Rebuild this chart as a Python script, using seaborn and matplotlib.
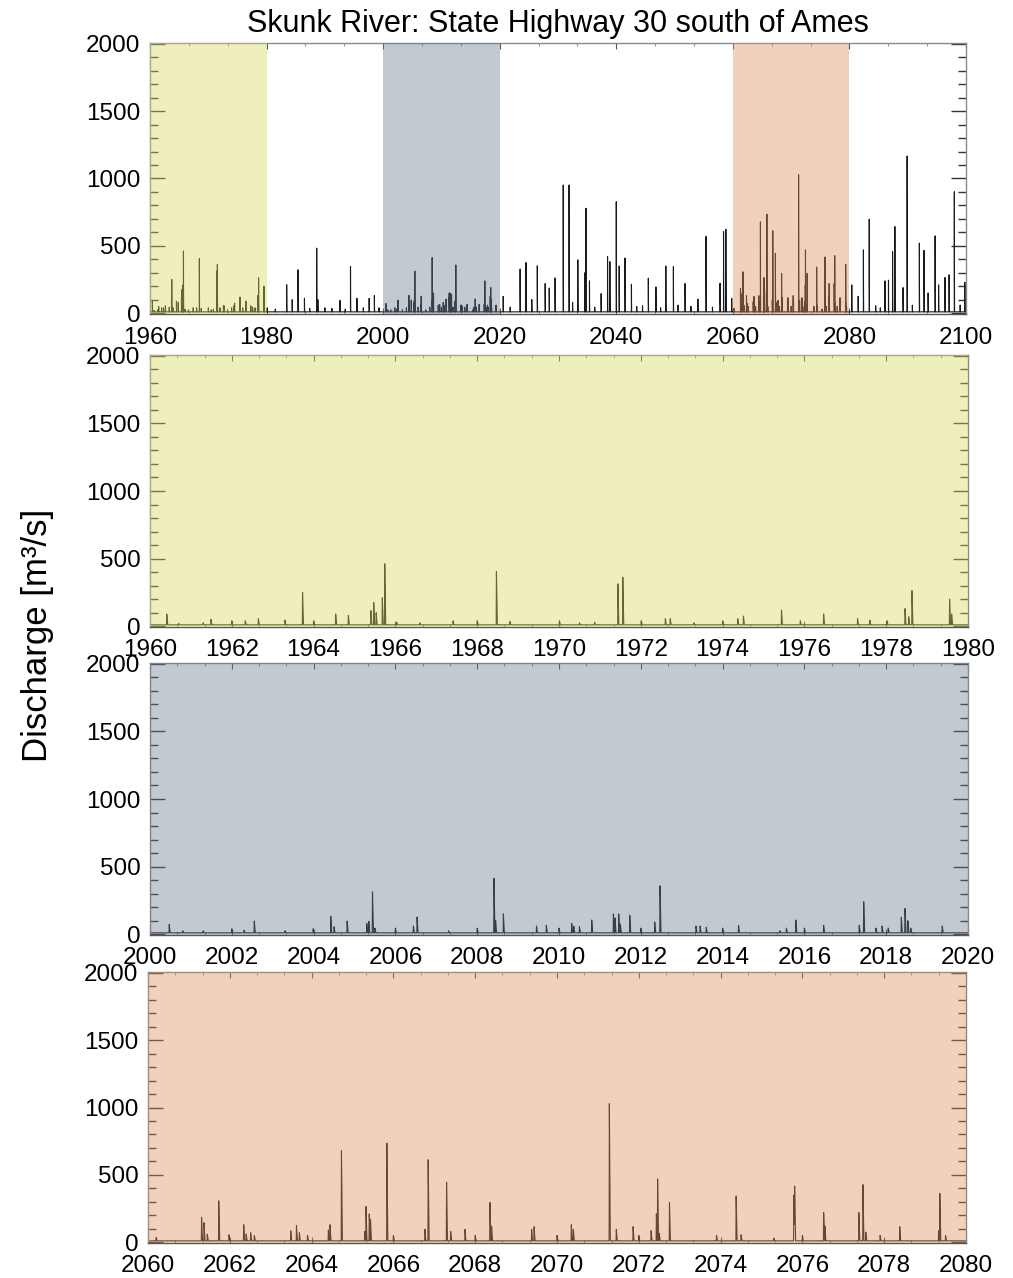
import numpy as np
import pandas as pd
import matplotlib
matplotlib.use("Agg")
import matplotlib.pyplot as plt
from matplotlib.ticker import MultipleLocator
import seaborn as sns

# ---------------- data (peak flows) ----------------
TITLE = "Skunk River: State Highway 30 south of Ames"
YLABEL = "Discharge [m³/s]"
BASEFLOW = 10.0  # m3/s between events

# 1960-1980
years_a = [1960.41, 1960.70, 1961.30, 1961.49, 1962.00, 1962.33, 1962.65, 1963.30,
           1963.73, 1964.00, 1964.54, 1964.85, 1965.40, 1965.47, 1965.53, 1965.68,
           1965.74, 1966.03, 1966.60, 1967.41, 1968.00, 1968.47, 1968.80, 1970.01,
           1970.50, 1970.87, 1971.44, 1971.56, 1972.01, 1972.60, 1972.72, 1973.30,
           1974.00, 1974.37, 1974.51, 1975.44, 1975.90, 1976.47, 1977.30, 1977.60,
           1978.02, 1978.46, 1978.55, 1978.63, 1979.55, 1979.60]
peaks_a = [90, 20, 25, 50, 40, 40, 55, 45,
           250, 40, 90, 80, 115, 175, 100, 210,
           462, 30, 25, 40, 40, 405, 35, 40,
           25, 30, 313, 363, 40, 55, 55, 25,
           40, 55, 75, 120, 40, 90, 55, 45,
           40, 130, 70, 263, 200, 90]

# 1980-2000
years_b = [1980.10, 1981.50, 1983.45, 1984.40, 1985.40, 1986.50, 1987.40, 1988.60,
           1988.80, 1990.00, 1991.20, 1992.60, 1993.50, 1994.40, 1995.50, 1996.60,
           1997.60, 1998.50, 1999.30]
peaks_b = [40, 30, 211, 100, 322, 112, 35, 483,
           100, 40, 35, 95, 30, 347, 110, 40,
           110, 130, 40]

# 2000-2020
years_c = [2000.47, 2000.80, 2001.30, 2002.00, 2002.30, 2002.55, 2003.30, 2003.99,
           2004.42, 2004.50, 2004.82, 2005.30, 2005.35, 2005.44, 2005.50, 2006.00,
           2006.44, 2006.53, 2007.30, 2008.00, 2008.41, 2008.45, 2008.64, 2009.45,
           2009.69, 2010.00, 2010.31, 2010.36, 2010.50, 2010.80, 2011.33, 2011.37,
           2011.46, 2011.50, 2011.73, 2012.00, 2012.34, 2012.47, 2013.35, 2013.45,
           2013.60, 2014.00, 2014.39, 2015.40, 2015.56, 2015.79, 2016.00, 2016.47,
           2017.34, 2017.45, 2017.75, 2017.90, 2018.05, 2018.37, 2018.46, 2018.53,
           2018.60, 2019.37]
peaks_c = [72, 25, 25, 40, 30, 97, 25, 40,
           132, 55, 97, 80, 95, 313, 45, 45,
           60, 127, 25, 45, 413, 100, 150, 60,
           65, 45, 80, 60, 55, 105, 150, 120,
           150, 75, 140, 45, 90, 358, 60, 60,
           50, 45, 65, 25, 45, 105, 45, 65,
           65, 240, 45, 60, 45, 125, 190, 100,
           45, 60]

# 2020-2060
years_d = [2020.60, 2021.80, 2023.50, 2024.50, 2025.50, 2026.45, 2027.80, 2028.50,
           2029.50, 2030.90, 2031.90, 2032.50, 2033.40, 2034.60, 2034.80, 2035.40,
           2036.30, 2037.40, 2038.50, 2038.90, 2040.00, 2040.50, 2041.50, 2042.60,
           2043.50, 2044.50, 2045.50, 2046.80, 2047.60, 2048.50, 2049.80, 2050.60,
           2051.80, 2052.80, 2054.00, 2055.40, 2056.50, 2057.80, 2058.40, 2058.80,
           2059.80]
peaks_d = [125, 45, 327, 376, 102, 352, 220, 187,
           262, 952, 952, 80, 396, 300, 779, 240,
           45, 145, 421, 383, 828, 350, 410, 215,
           50, 55, 260, 195, 40, 350, 345, 60,
           220, 50, 105, 570, 45, 222, 606, 623,
           110]

# 2060-2080
years_e = [2060.20, 2061.31, 2061.37, 2061.45, 2061.73, 2061.98, 2062.34, 2062.40,
           2062.51, 2062.60, 2063.49, 2063.63, 2063.70, 2063.90, 2064.41, 2064.45,
           2064.73, 2065.30, 2065.33, 2065.41, 2065.44, 2065.84, 2066.00, 2066.77,
           2066.85, 2067.30, 2067.40, 2067.75, 2068.00, 2068.36, 2068.40, 2069.38,
           2069.44, 2070.00, 2070.35, 2070.40, 2071.28, 2071.45, 2071.86, 2072.00,
           2072.30, 2072.43, 2072.46, 2072.50, 2072.75, 2073.90, 2074.38, 2074.50,
           2075.30, 2075.79, 2075.81, 2076.00, 2076.52, 2076.55, 2077.38, 2077.48,
           2077.55, 2077.90, 2078.38, 2079.33, 2079.36, 2079.50]
peaks_e = [35, 185, 145, 60, 307, 55, 130, 60,
           70, 50, 85, 125, 70, 50, 90, 130,
           678, 80, 265, 210, 170, 735, 50, 95,
           612, 445, 80, 95, 50, 295, 120, 95,
           115, 50, 130, 95, 1028, 95, 115, 50,
           85, 210, 470, 65, 295, 50, 343, 55,
           30, 350, 417, 50, 220, 120, 220, 427,
           75, 50, 115, 85, 363, 50]

# 2080-2100
years_f = [2080.40, 2081.50, 2082.40, 2083.40, 2084.50, 2085.30, 2086.10, 2086.70,
           2087.40, 2087.80, 2089.20, 2089.90, 2090.80, 2092.00, 2092.80, 2093.50,
           2094.70, 2095.30, 2096.40, 2097.10, 2098.00, 2099.00, 2099.80]
peaks_f = [210, 125, 470, 698, 55, 40, 240, 245,
           458, 643, 190, 1167, 60, 520, 466, 150,
           574, 210, 265, 285, 902, 60, 230]

periods = [(1960, 1980), (2000, 2020), (2060, 2080)]
period_colors = ["#d9d95c", "#69788e", "#d98e5c"]  # overlays (alpha 0.4)

# ---------------- build hydrograph from the event list ----------------
ev_t = np.array(years_a + years_b + years_c + years_d + years_e + years_f)
ev_q = np.array(peaks_a + peaks_b + peaks_c + peaks_d + peaks_e + peaks_f, float)
t = np.union1d(np.arange(1960.0, 2100.0005, 0.002), ev_t)
q = np.full_like(t, BASEFLOW)
RISE, FALL = 0.006, 0.022
for tt, qq in zip(ev_t, ev_q):
    i0, i1 = np.searchsorted(t, [tt - RISE, tt + FALL])
    seg = t[i0:i1]
    shape = np.where(seg <= tt, 1 - (tt - seg) / RISE, 1 - (seg - tt) / FALL)
    q[i0:i1] = np.maximum(q[i0:i1], BASEFLOW + (qq - BASEFLOW) * np.clip(shape, 0, 1))
df = pd.DataFrame({"year": t, "discharge": q})

# ---------------- figure ----------------
sns.set_theme(style="white")
plt.rcParams["font.family"] = ["Liberation Sans", "DejaVu Sans"]
plt.rcParams["text.color"] = "black"

W, H = 1013, 1278
fig = plt.figure(figsize=(W / 100, H / 100), dpi=100)
boxes = [(150, 43, 966, 314), (150, 355, 968, 627), (150, 663, 968, 935), (148, 972, 966, 1243)]
axes = []
for (l, tp, r, b) in boxes:
    axes.append(fig.add_axes([l / W, 1 - b / H, (r - l) / W, (b - tp) / H]))

xr = [(1960, 2100), (1960, 1980), (2000, 2020), (2060, 2080)]
for k, ax in enumerate(axes):
    x0, x1 = xr[k]
    sub = df[(df.year >= x0) & (df.year <= x1)]
    sns.lineplot(data=sub, x="year", y="discharge", ax=ax, color="#1a1a1a",
                 lw=0.8, estimator=None, sort=False, zorder=2)
    if k == 0:
        for (p0, p1), c in zip(periods, period_colors):
            ax.axvspan(p0, p1, color=c, alpha=0.4, lw=0, zorder=3)
    else:
        ax.axvspan(x0, x1, color=period_colors[k - 1], alpha=0.4, lw=0, zorder=3)
    ax.set_xlim(x0, x1)
    ax.set_ylim(-6, 2006)
    ax.set_xlabel("")
    ax.set_ylabel("")
    step = 20 if k == 0 else 2
    ax.xaxis.set_major_locator(MultipleLocator(step))
    ax.xaxis.set_minor_locator(MultipleLocator(step / 3))
    ax.yaxis.set_major_locator(MultipleLocator(500))
    ax.yaxis.set_minor_locator(MultipleLocator(100))
    ax.tick_params(axis="y", which="major", direction="in", length=11, width=1,
                   left=True, right=True, labelsize=17.5, pad=7, color="#333333",
                   labelcolor="black")
    ax.tick_params(axis="y", which="minor", direction="in", length=5.5, width=1,
                   left=True, right=True, color="#333333")
    ax.tick_params(axis="x", which="major", direction="in", length=4, width=0.8,
                   top=True, bottom=True, labelsize=17.5, pad=9, color="#555555",
                   labelcolor="black")
    ax.tick_params(axis="x", which="minor", direction="in", length=2.5, width=0.6,
                   top=True, bottom=True, color="#777777")
    for s in ax.spines.values():
        s.set_color("#8a8a8a")
        s.set_linewidth(1.0)
    ax.spines["bottom"].set_color("#555555")
    ax.set_facecolor("white")

axes[0].set_title(TITLE, fontsize=22, pad=8, color="black")
fig.text(38 / W, 1 - 635 / H, YLABEL, rotation=90, ha="center", va="center",
         fontsize=25, color="black")

fig.savefig("out.png", dpi=100)
